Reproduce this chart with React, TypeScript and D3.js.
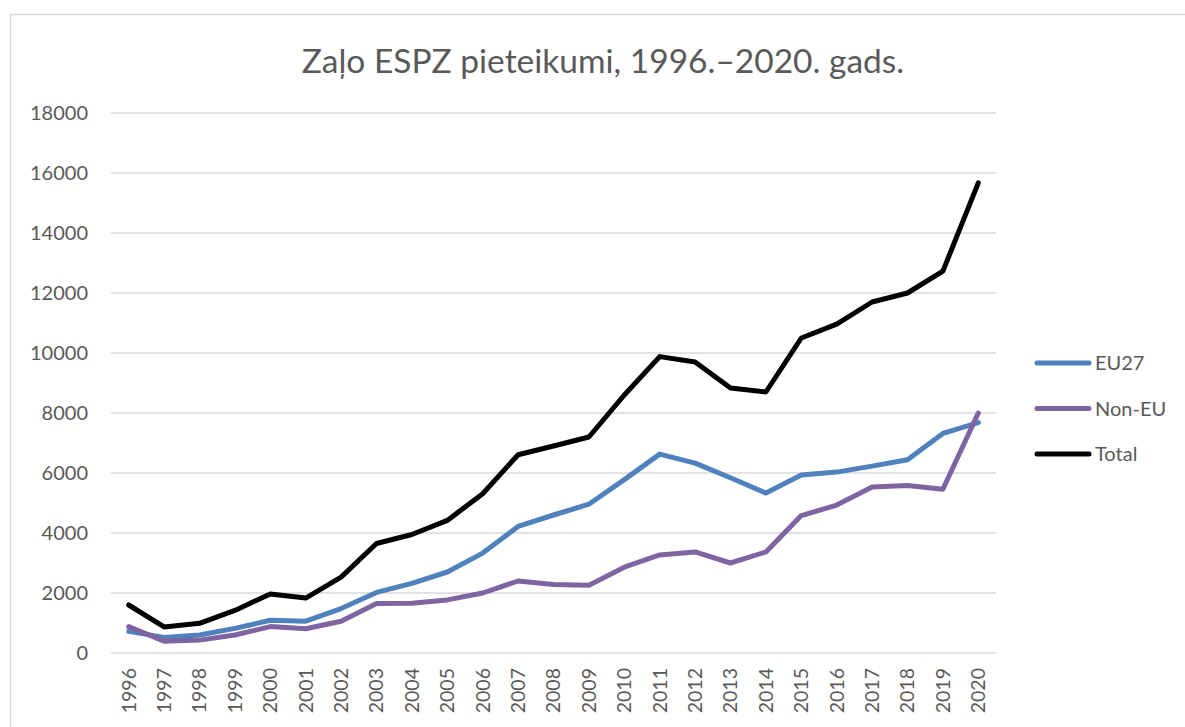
import React, { useRef, useEffect } from 'react';
import * as d3 from 'd3';

const years = [
  '1996', '1997', '1998', '1999', '2000', '2001', '2002', '2003', '2004',
  '2005', '2006', '2007', '2008', '2009', '2010', '2011', '2012', '2013',
  '2014', '2015', '2016', '2017', '2018', '2019', '2020',
];
const eu27 = [
  720, 520, 600, 820, 1090, 1060, 1480, 2020, 2320, 2700, 3330, 4220, 4600,
  4960, 5780, 6630, 6330, 5840, 5330, 5930, 6030, 6230, 6440, 7320, 7680,
];
const nonEu = [
  880, 390, 430, 600, 880, 810, 1060, 1650, 1660, 1770, 2000, 2400, 2280,
  2260, 2860, 3270, 3370, 3000, 3370, 4580, 4930, 5530, 5580, 5460, 8000,
];
const total = [
  1600, 870, 990, 1420, 1970, 1830, 2530, 3650, 3950, 4420, 5310, 6610, 6900,
  7200, 8600, 9880, 9700, 8830, 8700, 10500, 10960, 11700, 12000, 12730, 15670,
];
const yTicks = [0, 2000, 4000, 6000, 8000, 10000, 12000, 14000, 16000, 18000];
const seriesNames = ['EU27', 'Non-EU', 'Total'];
const seriesColors = ['#4f81bd', '#8064a2', '#000000'];

export default function App() {
  const ref = useRef<SVGSVGElement>(null);

  useEffect(() => {
    const svg = d3.select(ref.current);
    svg.selectAll('*').remove();

    const font = 'Lato, "Open Sans", sans-serif';
    const textColor = '#595959';

    // chart frame (runs off the right and bottom edges)
    svg.append('rect')
      .attr('x', 10.5).attr('y', 14.5)
      .attr('width', 1200).attr('height', 800)
      .attr('fill', 'white')
      .attr('stroke', '#d9d9d9')
      .attr('stroke-width', 1.5);

    const x = d3.scaleBand<string>().domain(years).range([111, 996]);
    const y = d3.scaleLinear().domain([0, 18000]).range([653, 113]);
    const cx = (d: string) => (x(d) ?? 0) + x.bandwidth() / 2;

    // gridlines
    svg.append('g')
      .selectAll('line')
      .data(yTicks)
      .join('line')
      .attr('x1', 111).attr('x2', 996)
      .attr('y1', d => y(d)).attr('y2', d => y(d))
      .attr('stroke', '#d9d9d9')
      .attr('stroke-width', 1.5);

    // y labels
    svg.append('g')
      .selectAll('text')
      .data(yTicks)
      .join('text')
      .attr('x', 88)
      .attr('y', d => y(d))
      .attr('dy', '0.35em')
      .attr('text-anchor', 'end')
      .style('font-family', font)
      .style('font-size', '20px')
      .attr('fill', textColor)
      .text(d => String(d));

    // x labels (rotated)
    svg.append('g')
      .selectAll('text')
      .data(years)
      .join('text')
      .attr('transform', d => `translate(${cx(d)},668) rotate(-90)`)
      .attr('dy', '0.35em')
      .attr('text-anchor', 'end')
      .style('font-family', font)
      .style('font-size', '19.5px')
      .attr('fill', textColor)
      .text(d => d);

    // lines
    const allSeries = [eu27, nonEu, total];
    const line = d3.line<number>()
      .x((_, i) => cx(years[i]))
      .y(d => y(d));

    allSeries.forEach((vals, i) => {
      svg.append('path')
        .datum(vals)
        .attr('d', line)
        .attr('fill', 'none')
        .attr('stroke', seriesColors[i])
        .attr('stroke-width', 5)
        .attr('stroke-linejoin', 'round')
        .attr('stroke-linecap', 'round');
    });

    // title
    svg.append('text')
      .attr('x', 603)
      .attr('y', 73)
      .attr('text-anchor', 'middle')
      .style('font-family', font)
      .style('font-size', '33.5px')
      .attr('fill', textColor)
      .text('Zaļo ESPZ pieteikumi, 1996.–2020. gads.');

    // legend
    const legend = svg.append('g');
    seriesNames.forEach((name, i) => {
      const ly = 363 + i * 45.5;
      legend.append('line')
        .attr('x1', 1037).attr('x2', 1089)
        .attr('y1', ly).attr('y2', ly)
        .attr('stroke', seriesColors[i])
        .attr('stroke-width', 5)
        .attr('stroke-linecap', 'round');
      legend.append('text')
        .attr('x', 1095)
        .attr('y', ly)
        .attr('dy', '0.35em')
        .style('font-family', font)
        .style('font-size', '20px')
        .attr('fill', textColor)
        .text(name);
    });
  }, []);

  return (
    <svg
      ref={ref}
      width={1185}
      height={727}
      style={{ position: 'absolute', left: 0, top: 0, display: 'block' }}
    />
  );
}
